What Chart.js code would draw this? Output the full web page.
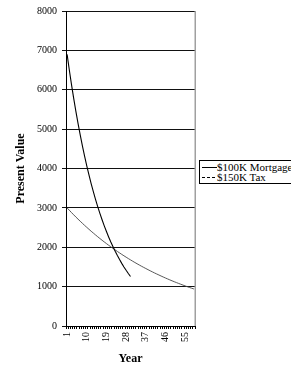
<!DOCTYPE html>
<html>
<head>
<meta charset="utf-8">
<script src="https://cdn.jsdelivr.net/npm/chart.js@4/dist/chart.umd.min.js"></script>
<style>
  html, body { margin: 0; padding: 0; background: #fff; overflow: hidden; }
  #wrap { position: relative; width: 291px; height: 366px; overflow: hidden; }
  #c { position: absolute; left: 0; top: 0; }
  #legend { position: absolute; left: 199px; top: 160px; width: 110px; height: 22px;
    border: 1px solid #000; font-family: "Liberation Serif", serif; font-size: 11px; color: #000; background: #fff; }
  .row { position: absolute; left: 0; height: 10px; line-height: 10px; white-space: nowrap; }
  .sample { position: absolute; left: 2px; width: 15px; top: 5px; height: 1px; }
  .txt { position: absolute; left: 17px; top: 0; }
</style>
</head>
<body>
<div id="wrap">
  <canvas id="c" width="291" height="366"></canvas>
  <div id="legend"></div>
</div>
<script>
// Categories: years 1..59
const years = ["1","2","3","4","5","6","7","8","9","10","11","12","13","14","15","16","17","18","19","20",
  "21","22","23","24","25","26","27","28","29","30","31","32","33","34","35","36","37","38","39","40",
  "41","42","43","44","45","46","47","48","49","50","51","52","53","54","55","56","57","58","59"];

// $100K Mortgage present value (years 1..30)
const mortgage = [6900, 6507, 6136, 5786, 5456, 5145, 4852, 4575, 4315, 4069,
  3837, 3618, 3412, 3217, 3034, 2861, 2698, 2544, 2399, 2262,
  2133, 2012, 1897, 1789, 1687, 1591, 1500, 1415, 1334, 1258];

// $150K Tax present value (years 1..59)
const tax = [3000, 2941, 2882, 2825, 2769, 2714, 2661, 2608, 2556, 2506,
  2456, 2407, 2360, 2313, 2267, 2222, 2178, 2135, 2093, 2051,
  2011, 1971, 1932, 1893, 1856, 1819, 1783, 1748, 1713, 1679,
  1646, 1613, 1581, 1550, 1519, 1489, 1460, 1431, 1402, 1375,
  1347, 1321, 1295, 1269, 1244, 1219, 1195, 1171, 1148, 1125,
  1103, 1081, 1060, 1039, 1018, 998, 978, 959, 940];

const seriesNames = ["$100K Mortgage", "$150K Tax"];
const yTicks = [0, 1000, 2000, 3000, 4000, 5000, 6000, 7000, 8000];
const xLabelEvery = 9;

const serif = "'Liberation Serif', 'Times New Roman', serif";

const rightBorder = {
  id: 'rightBorder',
  afterDatasetsDraw(chart) {
    const {ctx, chartArea} = chart;
    ctx.save();
    ctx.strokeStyle = '#a0a0a0';
    ctx.lineWidth = 1.5;
    ctx.beginPath();
    ctx.moveTo(chartArea.right + 0.25, chartArea.top);
    ctx.lineTo(chartArea.right + 0.25, chartArea.bottom);
    ctx.stroke();
    ctx.restore();
  }
};

new Chart(document.getElementById('c'), {
  type: 'line',
  data: {
    labels: years,
    datasets: [
      { label: seriesNames[0], data: mortgage, borderColor: '#000', borderWidth: 1.1,
        pointRadius: 0, tension: 0, fill: false },
      { label: seriesNames[1], data: tax, borderColor: '#444', borderWidth: 0.9,
        pointRadius: 0, tension: 0, fill: false }
    ]
  },
  options: {
    responsive: false,
    animation: false,
    events: [],
    layout: { padding: { left: 0, top: 11, right: 96, bottom: 0 } },
    plugins: { legend: { display: false }, tooltip: { enabled: false } },
    scales: {
      x: {
        type: 'category',
        offset: true,
        border: { display: true, color: '#000', width: 1 },
        grid: { display: true, offset: true, drawOnChartArea: false, drawTicks: true,
          tickLength: 3, color: '#000', lineWidth: 1 },
        ticks: {
          autoSkip: false, minRotation: 90, maxRotation: 90, padding: 3,
          color: '#000', font: { family: serif, size: 10 },
          callback: function(v, i) { return (i % xLabelEvery === 0) ? years[i] : ''; }
        },
        title: { display: true, text: 'Year', color: '#000',
          font: { family: serif, size: 12, weight: 'bold' }, padding: { top: 0, bottom: 0 } },
        afterFit: function(s) { s.height = 40; }
      },
      y: {
        min: 0, max: 8000,
        border: { display: true, color: '#000', width: 1 },
        grid: { color: '#111', lineWidth: 1, drawTicks: true, tickLength: 4 },
        afterBuildTicks: function(s) { s.ticks = yTicks.map(v => ({ value: v })); },
        ticks: { padding: 5, color: '#000', font: { family: serif, size: 10 },
          callback: function(v) { return String(v); } },
        title: { display: true, text: 'Present Value', color: '#000',
          font: { family: serif, size: 12, weight: 'bold' }, padding: { top: 14, bottom: 0 } },
        afterFit: function(s) { s.width = 66; }
      }
    }
  },
  plugins: [rightBorder]
});

// HTML legend built from series names
const legend = document.getElementById('legend');
const samples = ['#000', 'repeating-linear-gradient(to right, #000 0 3px, transparent 3px 5px)'];
seriesNames.forEach((name, i) => {
  const row = document.createElement('div');
  row.className = 'row';
  row.style.top = (1 + i * 10) + 'px';
  const s = document.createElement('div');
  s.className = 'sample';
  s.style.background = samples[i];
  const t = document.createElement('span');
  t.className = 'txt';
  t.textContent = name;
  row.appendChild(s); row.appendChild(t);
  legend.appendChild(row);
});
</script>
</body>
</html>
